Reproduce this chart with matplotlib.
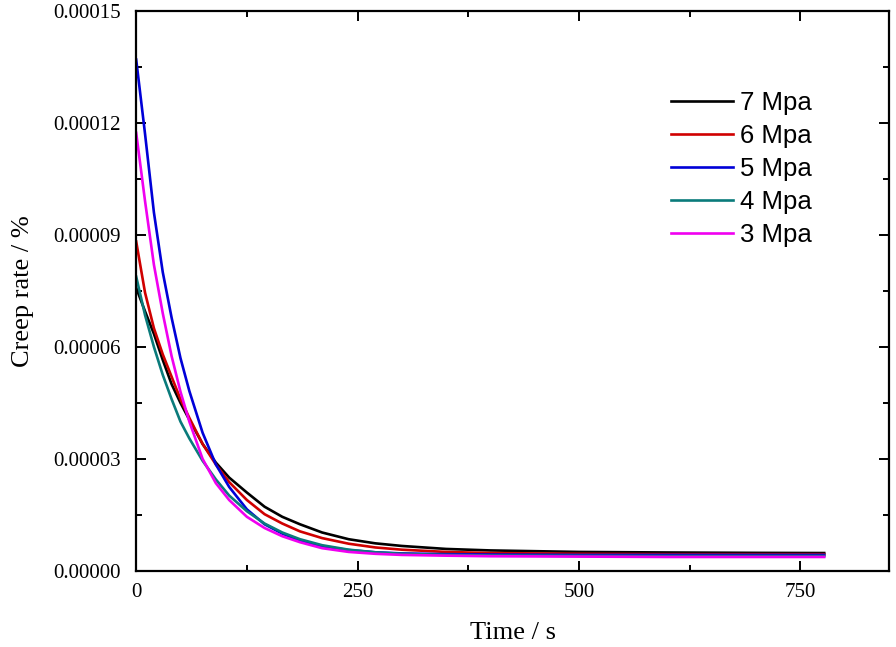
import matplotlib
matplotlib.use("Agg")
import matplotlib.pyplot as plt
from matplotlib.ticker import MultipleLocator, FormatStrFormatter

time_s = [0, 10, 20, 30, 40, 50, 60, 75, 90, 105, 125, 145, 165, 185,
          210, 240, 270, 300, 350, 400, 500, 600, 700, 777]

rate_7mpa = [7.58e-5, 6.95e-5, 6.35e-5, 5.65e-5, 5.0e-5, 4.5e-5, 4.05e-5, 3.4e-5,
             2.9e-5, 2.5e-5, 2.1e-5, 1.72e-5, 1.45e-5, 1.25e-5, 1.03e-5, 8.5e-6,
             7.4e-6, 6.7e-6, 5.9e-6, 5.5e-6, 5.1e-6, 4.95e-6, 4.85e-6, 4.8e-6]
rate_6mpa = [8.82e-5, 7.45e-5, 6.5e-5, 5.8e-5, 5.2e-5, 4.6e-5, 4.1e-5, 3.4e-5,
             2.85e-5, 2.38e-5, 1.9e-5, 1.52e-5, 1.27e-5, 1.06e-5, 8.8e-6, 7.3e-6,
             6.3e-6, 5.7e-6, 5.1e-6, 4.8e-6, 4.6e-6, 4.5e-6, 4.5e-6, 4.5e-6]
rate_5mpa = [1.369e-4, 1.17e-4, 9.6e-5, 8.0e-5, 6.78e-5, 5.7e-5, 4.82e-5, 3.7e-5,
             2.85e-5, 2.25e-5, 1.65e-5, 1.25e-5, 1.0e-5, 8.1e-6, 6.6e-6, 5.6e-6,
             5.0e-6, 4.7e-6, 4.5e-6, 4.4e-6, 4.3e-6, 4.3e-6, 4.3e-6, 4.3e-6]
rate_4mpa = [7.88e-5, 6.85e-5, 6.0e-5, 5.25e-5, 4.6e-5, 4.0e-5, 3.55e-5, 2.95e-5,
             2.45e-5, 2.02e-5, 1.6e-5, 1.27e-5, 1.03e-5, 8.5e-6, 6.9e-6, 5.7e-6,
             5.0e-6, 4.6e-6, 4.3e-6, 4.15e-6, 4.05e-6, 4.0e-6, 4.0e-6, 4.0e-6]
rate_3mpa = [1.173e-4, 9.9e-5, 8.2e-5, 6.9e-5, 5.75e-5, 4.8e-5, 4.0e-5, 3.0e-5,
             2.35e-5, 1.9e-5, 1.45e-5, 1.15e-5, 9.3e-6, 7.7e-6, 6.1e-6, 5.1e-6,
             4.6e-6, 4.3e-6, 4.1e-6, 3.95e-6, 3.85e-6, 3.75e-6, 3.75e-6, 3.75e-6]

labels = ["7 Mpa", "6 Mpa", "5 Mpa", "4 Mpa", "3 Mpa"]
colors = ["#000000", "#d00000", "#0000d8", "#0a7b7b", "#f000f0"]
series = [rate_7mpa, rate_6mpa, rate_5mpa, rate_4mpa, rate_3mpa]

fig = plt.figure(figsize=(8.96, 6.47), dpi=100)
ax = fig.add_axes([0.152, 0.1175, 0.84, 0.866])

for y, c, lab in zip(series, colors, labels):
    ax.plot(time_s, y, color=c, lw=1.9, label=lab)

ax.set_xlim(0, 850)
ax.set_ylim(0, 0.00015)
ax.xaxis.set_major_locator(MultipleLocator(250))
ax.xaxis.set_minor_locator(MultipleLocator(125))
ax.yaxis.set_major_locator(MultipleLocator(0.00003))
ax.yaxis.set_minor_locator(MultipleLocator(0.000015))
ax.yaxis.set_major_formatter(FormatStrFormatter("%.5f"))

serif = "Liberation Serif"
ax.tick_params(which="both", direction="in", top=True, right=True, width=1.4)
ax.tick_params(which="major", length=7)
ax.tick_params(axis="y", which="major", pad=11)
ax.tick_params(axis="x", which="major", pad=9)
ax.tick_params(which="minor", length=4)
for lbl in ax.get_xticklabels() + ax.get_yticklabels():
    lbl.set_fontfamily(serif)
    lbl.set_fontsize(15)
for s in ax.spines.values():
    s.set_linewidth(1.6)

ax.set_xlabel("Time / s", fontfamily=serif, fontsize=19, labelpad=14)
ax.set_ylabel("Creep rate / %", fontfamily=serif, fontsize=19, labelpad=14)

ax.legend(loc="upper left", bbox_to_anchor=(0.749, 0.859),
          bbox_transform=fig.transFigure, frameon=False, borderpad=0,
          borderaxespad=0, prop={"family": "Liberation Sans", "size": 18.5},
          handlelength=2.4, handletextpad=0.3, labelspacing=0.35)

fig.savefig("out.png", dpi=100)
